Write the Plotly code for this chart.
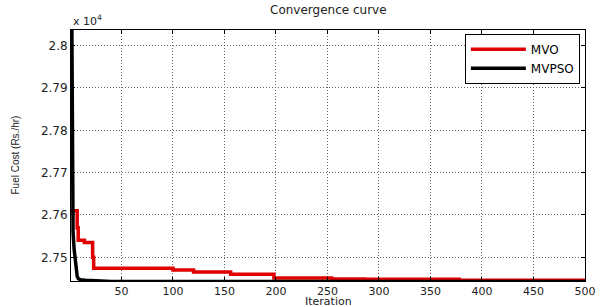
import plotly.graph_objects as go

# MVO step curve (iteration breakpoints, fuel cost Rs/hr)
mvo_iter = [1, 6, 7, 8, 14, 22, 23, 100, 120, 156, 198, 254, 286, 378, 500]
mvo_cost = [27610, 27610, 27570, 27540, 27535, 27500, 27474, 27470, 27465, 27460, 27451, 27449, 27448, 27446, 27446]

# MVPSO curve
mvpso_iter = [1, 2, 3, 4, 5, 6, 7, 8, 10, 15, 25, 40, 500]
mvpso_cost = [28400, 27900, 27560, 27520, 27490, 27470, 27455, 27450, 27447, 27446, 27444, 27443, 27443]

x_ticks = [50, 100, 150, 200, 250, 300, 350, 400, 450, 500]
y_ticks = [27500, 27600, 27700, 27800, 27900, 28000]
y_ticktext = ["2.75", "2.76", "2.77", "2.78", "2.79", "2.8"]

FONT = "DejaVu Sans, Arial, sans-serif"
FONT2 = "Liberation Sans, Arial, sans-serif"

fig = go.Figure()
fig.add_trace(go.Scatter(x=mvo_iter, y=mvo_cost, mode="lines", name="MVO",
                         line=dict(color="#e00000", width=3.5, shape="hv")))
fig.add_trace(go.Scatter(x=mvpso_iter, y=mvpso_cost, mode="lines", name="MVPSO",
                         line=dict(color="black", width=3.5)))

axis_common = dict(showline=True, linecolor="black", linewidth=1, mirror="ticks",
                   ticks="inside", ticklen=4, tickcolor="black",
                   showgrid=True, gridcolor="#666666", griddash="1px,2px", gridwidth=1,
                   zeroline=False, ticklabeloverflow="allow")

fig.update_xaxes(range=[1, 500], tickvals=x_ticks,
                 tickfont=dict(family=FONT, size=11, color="#222222"), **axis_common)
fig.update_yaxes(range=[27444, 28037], tickvals=y_ticks, ticktext=y_ticktext,
                 tickfont=dict(family=FONT, size=12, color="#222222"), **axis_common)

fig.update_layout(
    width=605, height=307,
    margin=dict(l=71, r=9, t=30, b=24),
    paper_bgcolor="white", plot_bgcolor="white",
    showlegend=True,
    legend=dict(x=0.99, y=0.985, xanchor="right", yanchor="top",
                bgcolor="white", bordercolor="black", borderwidth=1,
                font=dict(family=FONT, size=12, color="black"),
                itemwidth=55, tracegroupgap=0),
    annotations=[
        dict(text="Convergence curve", x=0.5, y=1, xref="paper", yref="paper",
             xanchor="center", yanchor="bottom", yshift=11, showarrow=False,
             font=dict(family=FONT, size=12, color="#222222")),
        dict(text="x 10<sup>4</sup>", x=0, y=1, xref="paper", yref="paper",
             xanchor="left", yanchor="bottom", yshift=0, showarrow=False,
             font=dict(family=FONT, size=11, color="#222222")),
        dict(text="Iteration", x=0.5, y=0, xref="paper", yref="paper",
             xanchor="center", yanchor="middle", yshift=-20, showarrow=False,
             borderpad=0, font=dict(family=FONT, size=11, color="#222222")),
        dict(text="Fuel Cost (Rs./hr)", x=0, y=0.5, xref="paper", yref="paper",
             xanchor="center", yanchor="middle", xshift=-56, textangle=-90, showarrow=False,
             font=dict(family=FONT2, size=10, color="#222222")),
    ],
)

fig.write_html("out.html", config={"displayModeBar": False},
               post_script="document.body.style.margin='0';")
